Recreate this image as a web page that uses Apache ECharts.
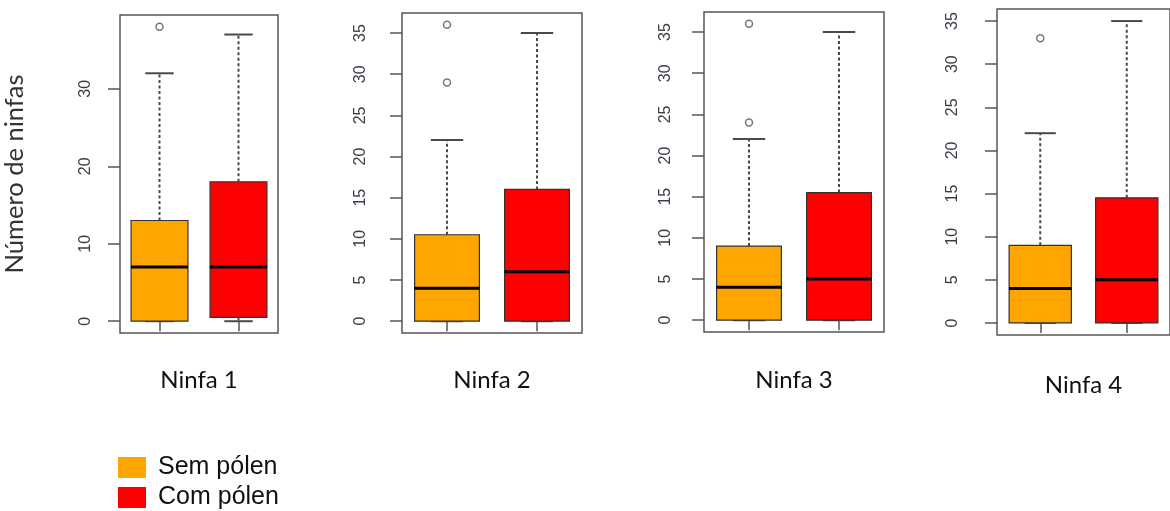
<!DOCTYPE html>
<html>
<head>
<meta charset="utf-8">
<script src="https://cdn.jsdelivr.net/npm/echarts@6/dist/echarts.min.js"></script>
<style>
  html, body { margin: 0; padding: 0; background: #fff; }
  #chart { width: 1170px; height: 511px; }
</style>
</head>
<body>
<div id="chart"></div>
<script>
// dados: [min, Q1, mediana, Q3, max]
var ninfas = ['Ninfa 1', 'Ninfa 2', 'Ninfa 3', 'Ninfa 4']
var grupos = ['Sem pólen', 'Com pólen']
var semPolen = [
  [0, 0, 7, 13, 32],
  [0, 0, 4, 10.5, 22],
  [0, 0, 4, 9, 22],
  [0, 0, 4, 9, 22]
]
var comPolen = [
  [0, 0.5, 7, 18, 37],
  [0, 0, 6, 16, 35],
  [0, 0, 5, 15.5, 35],
  [0, 0, 5, 14.5, 35]
]
var outliersSem = [[38], [29, 36], [24, 36], [33]]
var outliersCom = [[], [], [], []]
var yTicks = [
  [0, 10, 20, 30],
  [0, 5, 10, 15, 20, 25, 30, 35],
  [0, 5, 10, 15, 20, 25, 30, 35],
  [0, 5, 10, 15, 20, 25, 30, 35]
]

var cores = ['#FFA500', '#FF0000']
// posição de cada painel (left, top, width, height)
var paineis = [
  { left: 120, top: 15, width: 158, height: 318, labelMargin: 26, nameGap: 35 },
  { left: 402, top: 13, width: 180, height: 320, labelMargin: 33, nameGap: 35 },
  { left: 704, top: 12, width: 180, height: 320, labelMargin: 30, nameGap: 36 },
  { left: 997, top: 9, width: 177, height: 326, labelMargin: 36, nameGap: 38 }
]

function renderBox(params, api) {
  var x = api.value(0)
  var low = api.coord([x, api.value(1)])
  var q1 = api.coord([x, api.value(2)])
  var med = api.coord([x, api.value(3)])
  var q3 = api.coord([x, api.value(4)])
  var high = api.coord([x, api.value(5)])
  var w = api.size([1, 0])[0] * 0.72
  var cx = low[0]
  var whisker = { stroke: '#4a4a4a', lineWidth: 2, lineDash: [3, 2.5] }
  var cap = { stroke: '#4a4a4a', lineWidth: 2 }
  return {
    type: 'group',
    children: [
      { type: 'line', shape: { x1: cx, y1: q3[1], x2: cx, y2: high[1] }, style: whisker },
      { type: 'line', shape: { x1: cx, y1: q1[1], x2: cx, y2: low[1] }, style: whisker },
      { type: 'line', shape: { x1: cx - w / 4, y1: high[1], x2: cx + w / 4, y2: high[1] }, style: cap },
      { type: 'line', shape: { x1: cx - w / 4, y1: low[1], x2: cx + w / 4, y2: low[1] }, style: cap },
      {
        type: 'rect',
        shape: { x: cx - w / 2, y: q3[1], width: w, height: q1[1] - q3[1] },
        style: { fill: api.visual('color'), stroke: '#333', lineWidth: 1.2 }
      },
      { type: 'line', shape: { x1: cx - w / 2, y1: med[1], x2: cx + w / 2, y2: med[1] }, style: { stroke: '#000', lineWidth: 3 } }
    ]
  }
}

var grid = []
var xAxis = []
var yAxis = []
var series = []

ninfas.forEach(function(nome, i) {
  var p = paineis[i]
  // faixa do eixo como no R: extremos dos dados + 4%
  var todos = semPolen[i].concat(comPolen[i], outliersSem[i], outliersCom[i])
  var lo = Math.min.apply(null, todos)
  var hi = Math.max.apply(null, todos)
  var pad = (hi - lo) * 0.04
  grid.push({
    left: p.left, top: p.top, width: p.width, height: p.height,
    show: true, borderColor: '#555', borderWidth: 1.5, backgroundColor: 'transparent'
  })
  xAxis.push({
    type: 'category',
    gridIndex: i,
    data: grupos,
    boundaryGap: true,
    axisLine: { show: false },
    axisTick: { show: true, alignWithLabel: true, length: 10, lineStyle: { color: '#555', width: 1.5 } },
    axisLabel: { show: false },
    splitLine: { show: false },
    name: nome,
    nameLocation: 'middle',
    nameGap: p.nameGap,
    nameTextStyle: { fontFamily: 'Lato', fontSize: 24, color: '#111' }
  })
  yAxis.push({
    type: 'value',
    gridIndex: i,
    min: lo - pad,
    max: hi + pad,
    axisLine: { show: false },
    axisTick: { show: true, length: 12, customValues: yTicks[i], lineStyle: { color: '#555', width: 1.5 } },
    axisLabel: {
      show: true, customValues: yTicks[i], rotate: 90, margin: p.labelMargin,
      fontFamily: 'Liberation Sans', fontSize: 16, color: '#3c3c48'
    },
    splitLine: { show: false },
    name: i === 0 ? 'Número de ninfas' : '',
    nameLocation: 'middle',
    nameRotate: 90,
    nameGap: 92,
    nameTextStyle: { fontFamily: 'Lato', fontSize: 25.5, color: '#333' }
  })
  series.push({
    name: grupos[0], type: 'custom', xAxisIndex: i, yAxisIndex: i,
    itemStyle: { color: cores[0] },
    renderItem: renderBox,
    encode: { x: 0, y: [1, 2, 3, 4, 5] },
    data: [[0].concat(semPolen[i])]
  })
  series.push({
    name: grupos[1], type: 'custom', xAxisIndex: i, yAxisIndex: i,
    itemStyle: { color: cores[1] },
    renderItem: renderBox,
    encode: { x: 0, y: [1, 2, 3, 4, 5] },
    data: [[1].concat(comPolen[i])]
  })
  series.push({
    name: 'outliers', type: 'scatter', xAxisIndex: i, yAxisIndex: i,
    symbol: 'circle', symbolSize: 7,
    itemStyle: { color: 'rgba(0,0,0,0)', borderColor: '#555', borderWidth: 1.5 },
    data: outliersSem[i].map(function(v) { return [0, v] })
      .concat(outliersCom[i].map(function(v) { return [1, v] }))
  })
})

// uma legenda por grupo, empilhadas
var legend = grupos.map(function(g, k) {
  return {
    data: [g],
    left: 113,
    top: 450 + k * 30,
    icon: 'rect',
    itemWidth: 28,
    itemHeight: 21,
    textStyle: { fontFamily: 'Liberation Sans', fontSize: 25, color: '#111', padding: [0, 0, 0, 7] }
  }
})

var option = {
  animation: false,
  backgroundColor: '#fff',
  legend: legend,
  grid: grid,
  xAxis: xAxis,
  yAxis: yAxis,
  series: series
}

var chart = echarts.init(document.getElementById('chart'))
chart.setOption(option)
</script>
</body>
</html>
